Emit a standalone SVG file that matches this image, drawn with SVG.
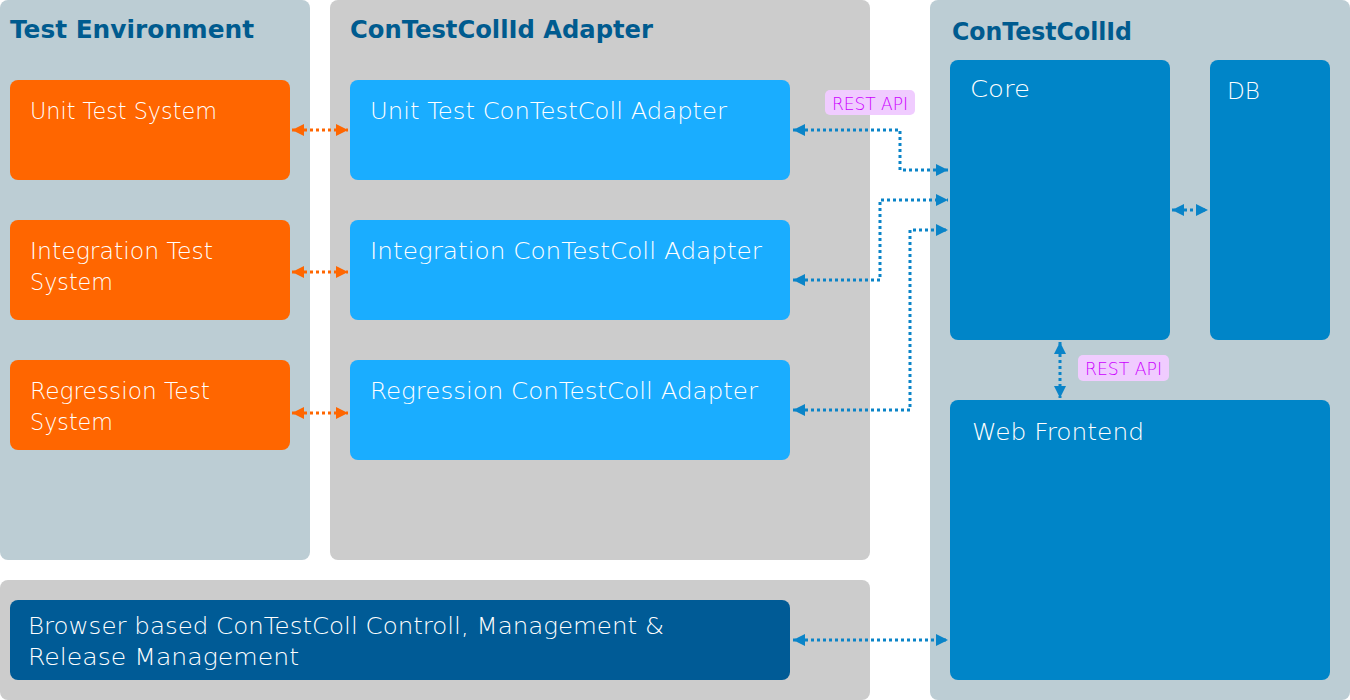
<svg xmlns="http://www.w3.org/2000/svg" width="1350" height="700" viewBox="0 0 1350 700">
<style>
.panel-b{fill:#bccdd4}
.panel-g{fill:#cccccc}
.title{font-family:"DejaVu Sans",sans-serif;font-weight:bold;font-size:24px;fill:#005b8f}
.lbl{font-family:"DejaVu Sans",sans-serif;font-weight:200;font-size:23px;fill:#ffffff}
.orange{fill:#ff6600}
.adapter{fill:#1aadff}
.core{fill:#0085c8}
.dark{fill:#005b96}
.rest{fill:#f0ccff}
.restt{font-family:"DejaVu Sans",sans-serif;font-weight:200;font-size:18px;fill:#cc00ff}
.co{fill:none;stroke:#ff6600;stroke-width:3;stroke-dasharray:3 3}
.cb{fill:none;stroke:#0a84c8;stroke-width:3;stroke-dasharray:3 3}
</style>
<defs>
<marker id="ao" viewBox="0 0 12 12" refX="12" refY="6" markerWidth="12" markerHeight="12" markerUnits="userSpaceOnUse" orient="auto-start-reverse"><path d="M0,0 L12,6 L0,12 Z" fill="#ff6600"/></marker>
<marker id="ab" viewBox="0 0 12 12" refX="12" refY="6" markerWidth="12" markerHeight="12" markerUnits="userSpaceOnUse" orient="auto-start-reverse"><path d="M0,0 L12,6 L0,12 Z" fill="#0a84c8"/></marker>
</defs>
<g id="panel-test-env"><rect x="0" y="0" width="310" height="560" rx="8" class="panel-b"/><text x="10" y="38" class="title" textLength="244" lengthAdjust="spacingAndGlyphs">Test Environment</text></g>
<g id="panel-adapter"><rect x="330" y="0" width="540" height="560" rx="8" class="panel-g"/><text x="350" y="38" class="title" textLength="303" lengthAdjust="spacingAndGlyphs">ConTestCollId Adapter</text></g>
<g id="panel-contestcollid"><rect x="930" y="0" width="420" height="700" rx="8" class="panel-b"/><text x="952" y="40" class="title" textLength="180" lengthAdjust="spacingAndGlyphs">ConTestCollId</text></g>
<g id="panel-bottom"><rect x="0" y="580" width="870" height="120" rx="8" class="panel-g"/></g>
<g id="unit-test-system"><rect x="10" y="80" width="280" height="100" rx="8" class="orange"/><text x="30" y="119" class="lbl" textLength="187" lengthAdjust="spacingAndGlyphs">Unit Test System</text></g>
<g id="integration-test-system"><rect x="10" y="220" width="280" height="100" rx="8" class="orange"/><text x="30" y="259" class="lbl" textLength="183" lengthAdjust="spacingAndGlyphs">Integration Test</text><text x="30" y="290" class="lbl" textLength="83" lengthAdjust="spacingAndGlyphs">System</text></g>
<g id="regression-test-system"><rect x="10" y="360" width="280" height="90" rx="8" class="orange"/><text x="30" y="399" class="lbl" textLength="180" lengthAdjust="spacingAndGlyphs">Regression Test</text><text x="30" y="430" class="lbl" textLength="83" lengthAdjust="spacingAndGlyphs">System</text></g>
<g id="unit-adapter"><rect x="350" y="80" width="440" height="100" rx="8" class="adapter"/><text x="370" y="119" class="lbl" textLength="357" lengthAdjust="spacingAndGlyphs">Unit Test ConTestColl Adapter</text></g>
<g id="integration-adapter"><rect x="350" y="220" width="440" height="100" rx="8" class="adapter"/><text x="370" y="259" class="lbl" textLength="392" lengthAdjust="spacingAndGlyphs">Integration ConTestColl Adapter</text></g>
<g id="regression-adapter"><rect x="350" y="360" width="440" height="100" rx="8" class="adapter"/><text x="370" y="399" class="lbl" textLength="388" lengthAdjust="spacingAndGlyphs">Regression ConTestColl Adapter</text></g>
<g id="core"><rect x="950" y="60" width="220" height="280" rx="8" class="core"/><text x="970" y="97" class="lbl" textLength="60" lengthAdjust="spacingAndGlyphs">Core</text></g>
<g id="db"><rect x="1210" y="60" width="120" height="280" rx="8" class="core"/><text x="1227" y="99" class="lbl" textLength="33" lengthAdjust="spacingAndGlyphs">DB</text></g>
<g id="web-frontend"><rect x="950" y="400" width="380" height="280" rx="8" class="core"/><text x="972" y="440" class="lbl" textLength="172" lengthAdjust="spacingAndGlyphs">Web Frontend</text></g>
<g id="browser-mgmt"><rect x="10" y="600" width="780" height="80" rx="8" class="dark"/><text x="28" y="634" class="lbl" textLength="636" lengthAdjust="spacingAndGlyphs">Browser based ConTestColl Controll, Management &amp;</text><text x="28" y="665" class="lbl" textLength="271" lengthAdjust="spacingAndGlyphs">Release Management</text></g>
<g id="connectors">
<path class="co" d="M292,130 H348" marker-start="url(#ao)" marker-end="url(#ao)"/>
<path class="co" d="M292,272 H348" marker-start="url(#ao)" marker-end="url(#ao)"/>
<path class="co" d="M292,413 H348" marker-start="url(#ao)" marker-end="url(#ao)"/>
<path class="cb" d="M793,130 H900 V170 H948" marker-start="url(#ab)" marker-end="url(#ab)"/>
<path class="cb" d="M793,280 H880 V200 H948" marker-start="url(#ab)" marker-end="url(#ab)"/>
<path class="cb" d="M793,410 H910 V230 H948" marker-start="url(#ab)" marker-end="url(#ab)"/>
<path class="cb" d="M1172,210 H1208" marker-start="url(#ab)" marker-end="url(#ab)"/>
<path class="cb" d="M1060,342 V398" marker-start="url(#ab)" marker-end="url(#ab)"/>
<path class="cb" d="M793,640 H948" marker-start="url(#ab)" marker-end="url(#ab)"/>
<g id="rest-api-1"><rect x="825" y="90" width="90" height="25" rx="5" class="rest"/><text x="832" y="110" class="restt" textLength="76" lengthAdjust="spacingAndGlyphs">REST API</text></g>
<g id="rest-api-2"><rect x="1078" y="355" width="91" height="26" rx="5" class="rest"/><text x="1085" y="375" class="restt" textLength="77" lengthAdjust="spacingAndGlyphs">REST API</text></g>
</g>
</svg>
